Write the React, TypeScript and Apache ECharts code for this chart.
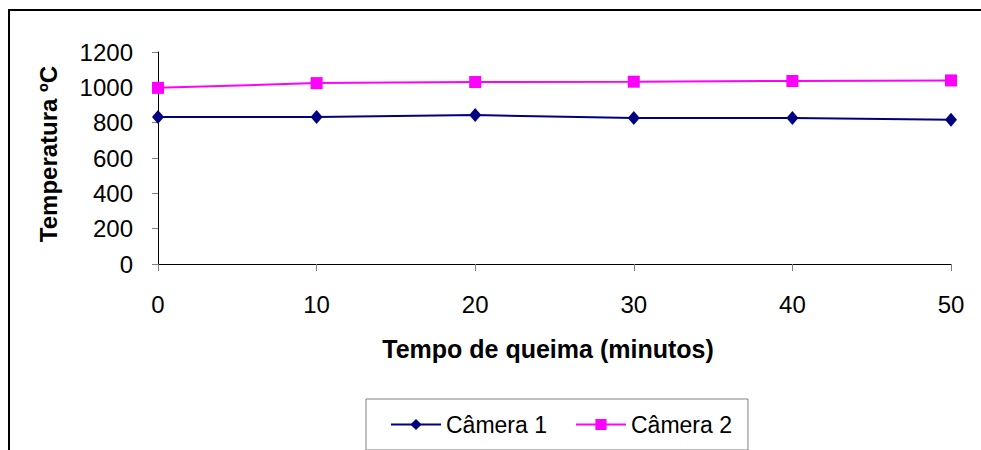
import React, { useEffect, useRef } from "react";
import * as echarts from "echarts";

const minutes = [0, 10, 20, 30, 40, 50];
const camera1 = [832, 832, 843, 826, 827, 817];
const camera2 = [997, 1024, 1030, 1032, 1036, 1039];
const seriesNames = ["Câmera 1", "Câmera 2"];
const xTitle = "Tempo de queima (minutos)";
const yTitle = "Temperatura ºC";

const FONT = "'Liberation Sans', Arial, sans-serif";

export default function App() {
  const ref = useRef<HTMLDivElement>(null);
  useEffect(() => {
    if (!ref.current) return;
    const chart = echarts.init(ref.current, null, { renderer: "svg" });
    chart.setOption({
      animation: false,
      backgroundColor: "#ffffff",
      textStyle: { fontFamily: FONT },
      grid: { left: 158, right: 30, top: 52, bottom: 186, containLabel: false },
      xAxis: {
        type: "value",
        min: 0,
        max: 50,
        interval: 10,
        axisLine: { lineStyle: { color: "#000", width: 1 } },
        axisTick: { show: true, length: 7, lineStyle: { color: "#808080" } },
        splitLine: { show: false },
        axisLabel: { margin: 28, fontSize: 24, color: "#000", fontFamily: FONT },
      },
      yAxis: {
        type: "value",
        min: 0,
        max: 1200,
        interval: 200,
        axisLine: { show: true, lineStyle: { color: "#000", width: 1 } },
        axisTick: { show: true, length: 6, lineStyle: { color: "#808080" } },
        splitLine: { show: false },
        axisLabel: {
          margin: 25,
          fontSize: 24,
          color: "#000",
          fontFamily: FONT,
          formatter: (v: number) => String(v),
        },
      },
      legend: {
        left: 366,
        top: 399,
        orient: "horizontal",
        borderColor: "#808080",
        borderWidth: 1,
        padding: [14, 16, 14, 24],
        itemWidth: 50,
        itemHeight: 14,
        itemGap: 28,
        textStyle: { fontSize: 23, color: "#000", fontFamily: FONT },
        data: seriesNames,
      },
      series: [
        {
          name: seriesNames[0],
          type: "line",
          data: minutes.map((m, i) => [m, camera1[i]]),
          symbol: "diamond",
          symbolSize: [12, 14],
          lineStyle: { color: "#000080", width: 2 },
          itemStyle: { color: "#000080" },
        },
        {
          name: seriesNames[1],
          type: "line",
          data: minutes.map((m, i) => [m, camera2[i]]),
          symbol: "rect",
          symbolSize: 12,
          lineStyle: { color: "#FF00FF", width: 2 },
          itemStyle: { color: "#FF00FF" },
        },
      ],
      graphic: [
        {
          type: "rect",
          shape: { x: 9, y: 10, width: 1000, height: 500 },
          style: { fill: "none", stroke: "#000", lineWidth: 2 },
          silent: true,
        },
        {
          type: "text",
          x: 548,
          y: 349,
          style: {
            text: xTitle,
            fontSize: 25,
            fontWeight: "bold",
            fontFamily: FONT,
            fill: "#000",
            align: "center",
            verticalAlign: "middle",
          },
        },
        {
          type: "text",
          x: 48,
          y: 154,
          rotation: Math.PI / 2,
          style: {
            text: yTitle,
            fontSize: 24,
            fontWeight: "bold",
            fontFamily: FONT,
            fill: "#000",
            align: "center",
            verticalAlign: "middle",
          },
        },
      ],
    });
    return () => chart.dispose();
  }, []);
  return (
    <div
      ref={ref}
      style={{ position: "absolute", left: 0, top: 0, width: 981, height: 450 }}
    />
  );
}
